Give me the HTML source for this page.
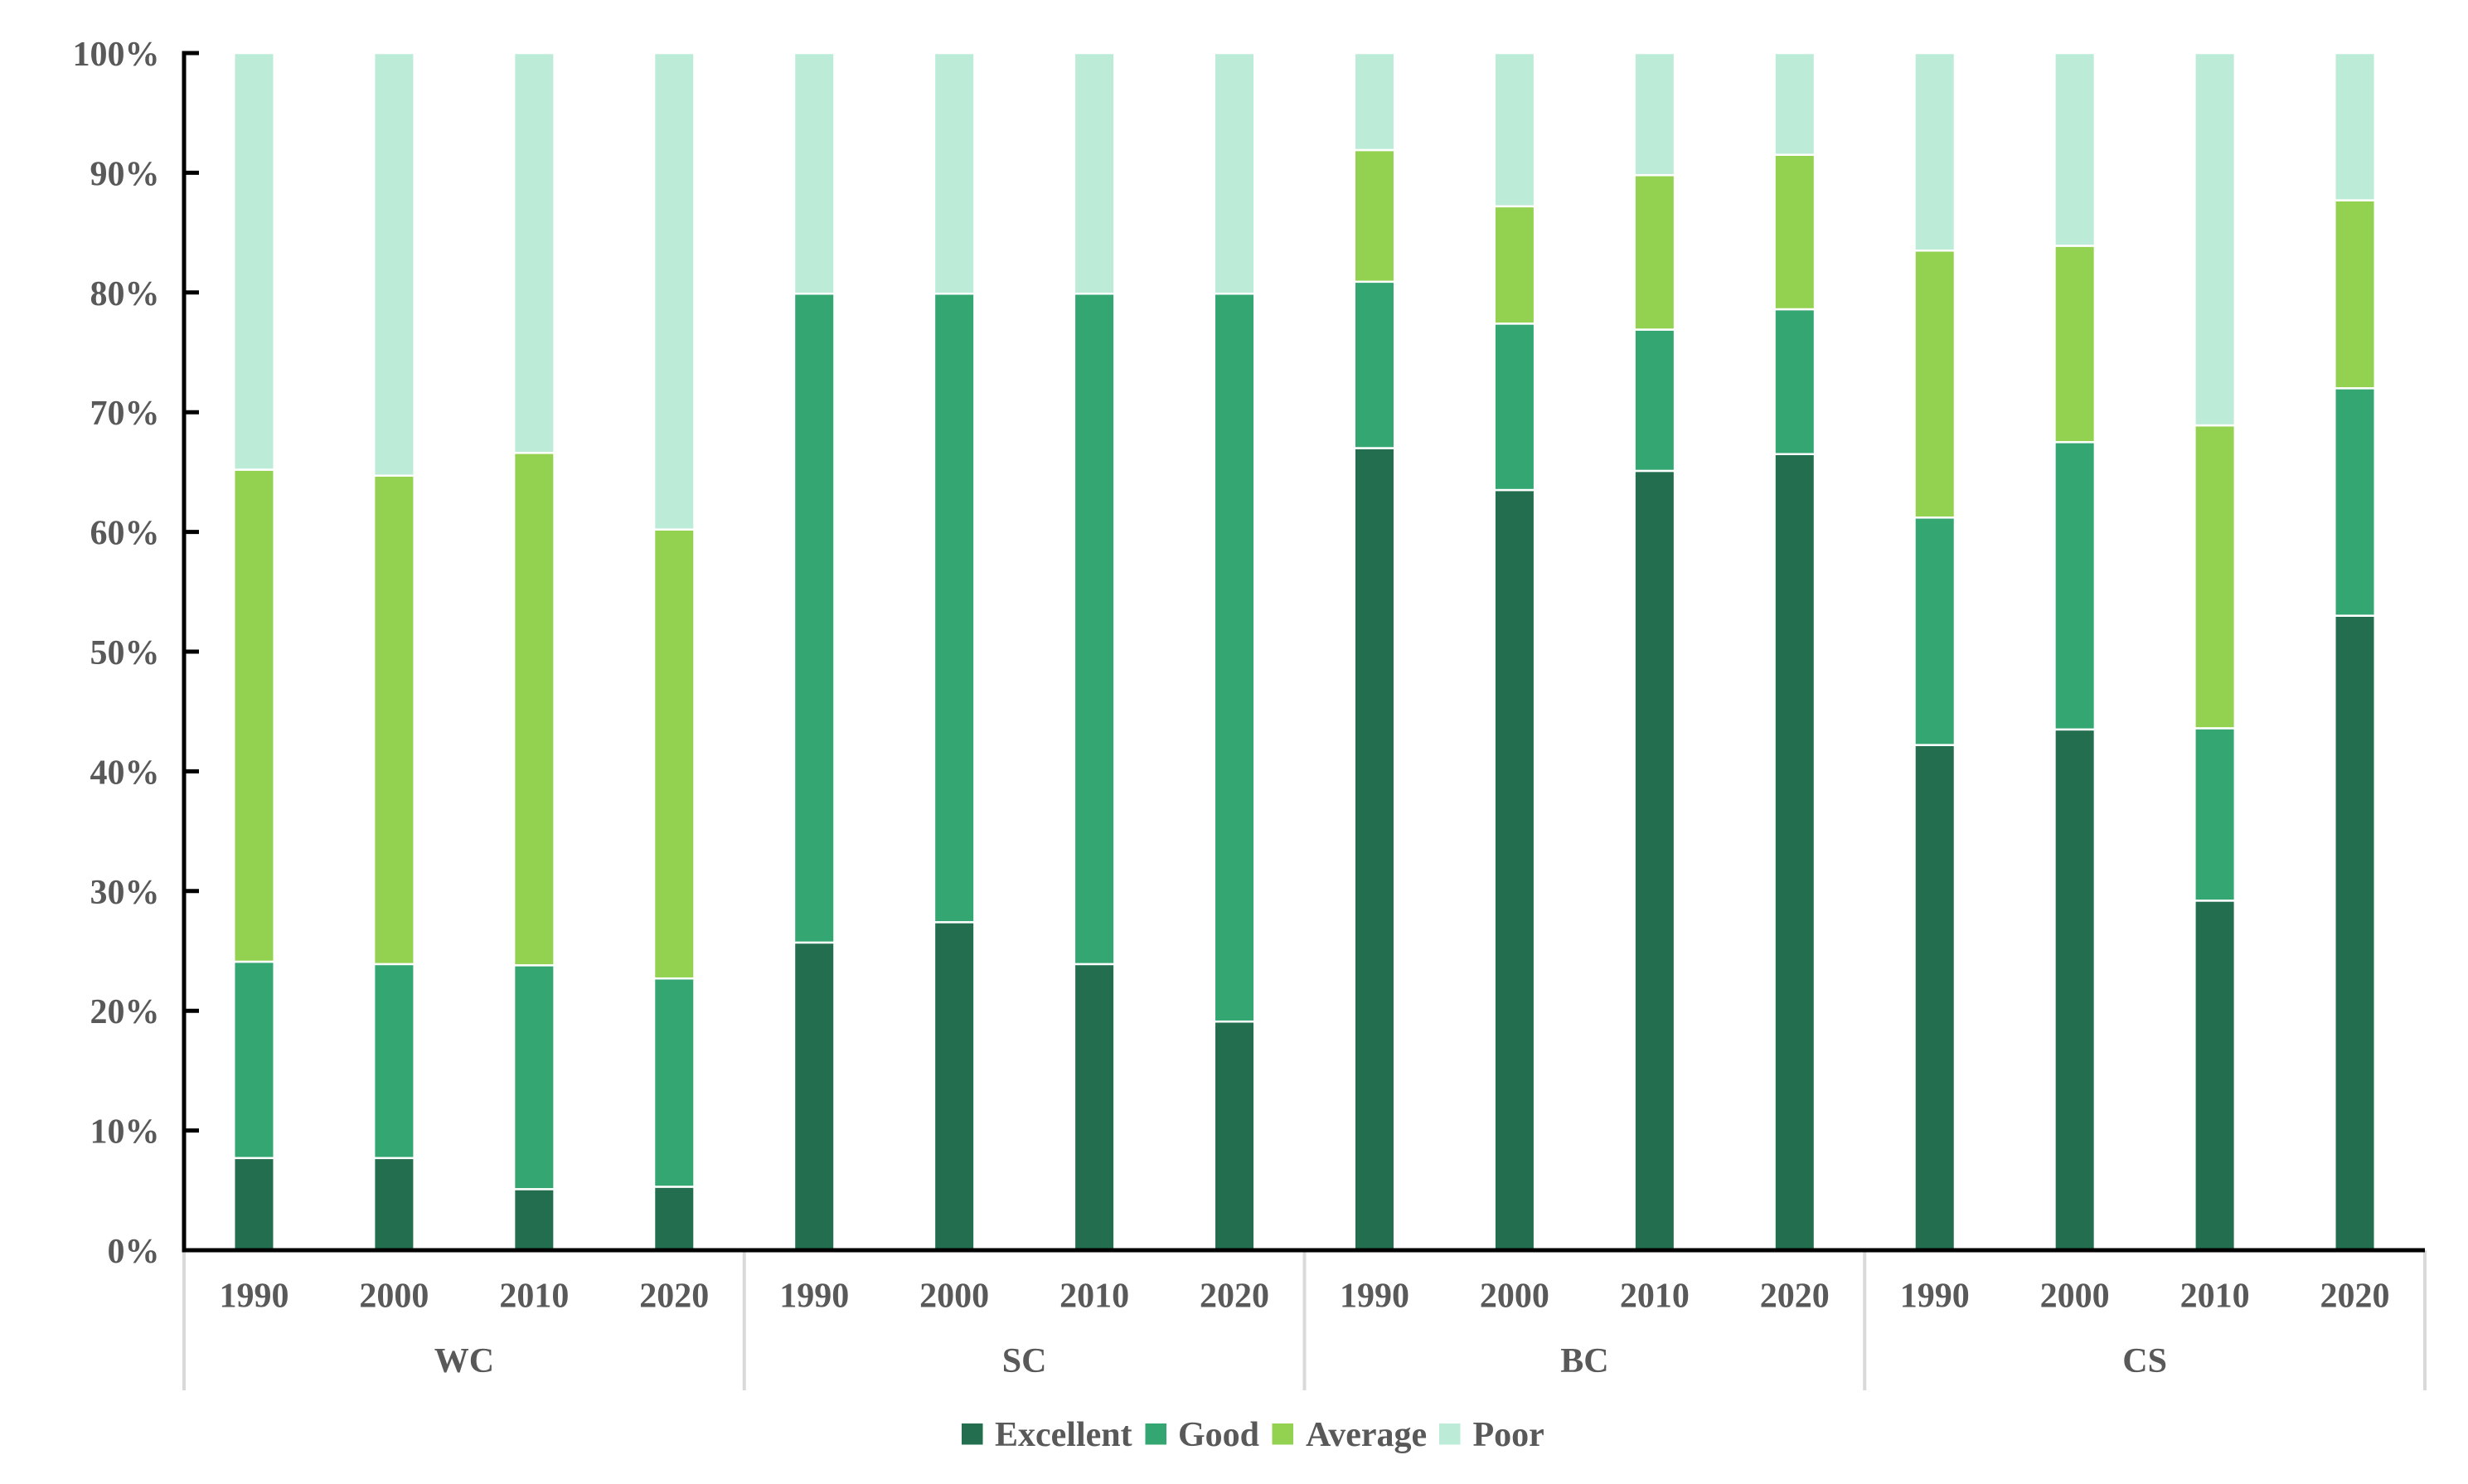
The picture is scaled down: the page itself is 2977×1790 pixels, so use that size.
<!DOCTYPE html>
<html lang="en">
<head>
<meta charset="utf-8">
<title>Stacked percentage bars</title>
<style>
  html, body { margin: 0; padding: 0; background: #ffffff; }
  body { width: 2977px; height: 1790px; overflow: hidden; }
  svg { display: block; }
  text { font-family: "Liberation Serif", "Times New Roman", serif; font-weight: bold; font-size: 42px; fill: #595959; }
  .s-0 { fill: #226E4E; }
  .s-1 { fill: #34A672; }
  .s-2 { fill: #93D251; }
  .s-3 { fill: #BCECD7; }
  .seg { stroke: #ffffff; stroke-width: 2.5; }
</style>
</head>
<body>
<svg id="chart" xmlns="http://www.w3.org/2000/svg" width="2977" height="1790" viewBox="0 0 2977 1790">
  <g id="separators"></g>
  <g id="bars"></g>
  <g id="axes"></g>
  <g id="xlabels"></g>
  <g id="ylabels"></g>
  <g>
    <g>
      <rect class="s-0" x="1160" y="1717" width="25.5" height="25.5"></rect>
      <text x="1200" y="1744">Excellent</text>
    </g>
    <g>
      <rect class="s-1" x="1381.5" y="1717" width="25.5" height="25.5"></rect>
      <text x="1421" y="1744">Good</text>
    </g>
    <g>
      <rect class="s-2" x="1534.5" y="1717" width="25.5" height="25.5"></rect>
      <text x="1575" y="1744">Average</text>
    </g>
    <g>
      <rect class="s-3" x="1736" y="1717" width="25.5" height="25.5"></rect>
      <text x="1776.5" y="1744">Poor</text>
    </g>
  </g>
</svg>
<script>
const groups = ['WC', 'SC', 'BC', 'CS'];
const years = ['1990', '2000', '2010', '2020'];
const seriesNames = ['excellent', 'good', 'average', 'poor'];
const excellent = [7.7, 7.7, 5.1, 5.3, 25.7, 27.4, 23.9, 19.1, 67.0, 63.5, 65.1, 66.5, 42.2, 43.5, 29.2, 53.0];
const good = [16.4, 16.2, 18.7, 17.4, 54.2, 52.5, 56.0, 60.8, 13.9, 13.9, 11.8, 12.1, 19.0, 24.0, 14.4, 19.0];
const average = [41.1, 40.8, 42.8, 37.5, 0, 0, 0, 0, 11.0, 9.8, 12.9, 12.9, 22.3, 16.4, 25.3, 15.7];
const poor = [34.8, 35.3, 33.4, 39.8, 20.1, 20.1, 20.1, 20.1, 8.1, 12.8, 10.2, 8.5, 16.5, 16.1, 31.1, 12.3];
const seriesValues = [excellent, good, average, poor];
const yTicks = [0, 10, 20, 30, 40, 50, 60, 70, 80, 90, 100];

const NS = 'http://www.w3.org/2000/svg';
const plotLeft = 222, plotRight = 2925, plotTop = 64, plotBottom = 1508;
const catCount = groups.length * years.length;
const catWidth = (plotRight - plotLeft) / catCount;
const barWidth = 48.5;

function yScale(v) { return plotBottom - (v / 100) * (plotBottom - plotTop); }
function xCenter(i) { return plotLeft + catWidth * (i + 0.5); }

function shape(tag, parent, props) {
  const el = document.createElementNS(NS, tag);
  for (const k in props) el.setAttribute(k, props[k]);
  parent.appendChild(el);
  return el;
}

const barsG = document.getElementById('bars');
const sepG = document.getElementById('separators');
const axesG = document.getElementById('axes');
const xG = document.getElementById('xlabels');
const yG = document.getElementById('ylabels');

// group separators
for (let g = 0; g <= groups.length; g++) {
  const x = plotLeft + g * years.length * catWidth;
  const sep = shape('line', sepG, { x1: x, x2: x, y1: plotBottom, y2: 1677, stroke: '#d9d9d9', 'stroke-width': 4 });
  
  
}

// stacked bars
for (let i = 0; i < catCount; i++) {
  let cum = 0;
  const gName = groups[Math.floor(i / years.length)];
  const yName = years[i % years.length];
  for (let s = 0; s < seriesValues.length; s++) {
    const v = seriesValues[s][i];
    if (v > 0) {
      const top = yScale(cum + v);
      const bottom = yScale(cum);
      const seg = shape('rect', barsG, {
        x: xCenter(i) - barWidth / 2,
        y: top,
        width: barWidth,
        height: Math.max(0, bottom - top),
        class: 'seg s-' + s
      });
      
      
    }
    cum += v;
  }
}

// axes
const yAxis = shape('line', axesG, { x1: plotLeft, x2: plotLeft, y1: plotTop - 2.5, y2: plotBottom + 2.5, stroke: '#000000', 'stroke-width': 5 });



const xAxis = shape('line', axesG, { x1: plotLeft - 2.5, x2: plotRight, y1: plotBottom, y2: plotBottom, stroke: '#000000', 'stroke-width': 5 });



yTicks.forEach(function (t) {
  const y = yScale(t);
  if (t > 0) {
    const tick = shape('line', axesG, { x1: plotLeft, x2: 240, y1: y, y2: y, stroke: '#000000', 'stroke-width': 5 });
    
    
  }
  const label = shape('text', yG, { x: 192.5, y: y + 15, 'text-anchor': 'end' });
  label.textContent = t + '%';
  
  
});

// category labels
for (let i = 0; i < catCount; i++) {
  const label = shape('text', xG, { x: xCenter(i), y: 1576.5, 'text-anchor': 'middle' });
  label.textContent = years[i % years.length];
  
  
}
groups.forEach(function (name, g) {
  const cx = plotLeft + (g + 0.5) * years.length * catWidth;
  const label = shape('text', xG, { x: cx, y: 1655, 'text-anchor': 'middle' });
  label.textContent = name;
  
  
});
</script>
</body>
</html>
